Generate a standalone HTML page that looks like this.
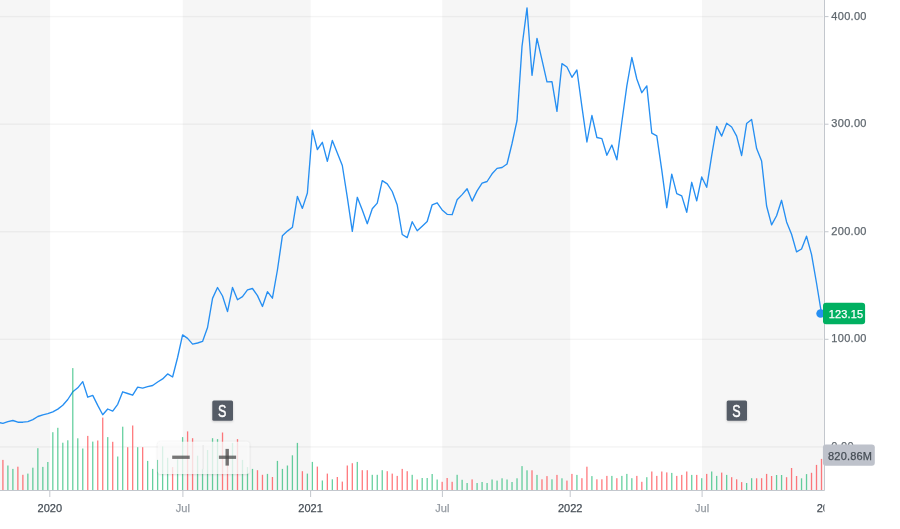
<!DOCTYPE html>
<html><head><meta charset="utf-8"><title>Chart</title>
<style>
html,body{margin:0;padding:0;background:#fff;}
svg{opacity:0.999;filter:blur(0.35px);}
body{width:900px;height:529px;overflow:hidden;position:relative;font-family:"Liberation Sans",Arial,sans-serif;}
</style></head><body>
<svg width="900" height="529" viewBox="0 0 900 529" style="position:absolute;left:0;top:0">
<defs><clipPath id="cc"><rect x="0" y="0" width="824.5" height="529"/></clipPath><filter id="sh" x="-30%" y="-30%" width="160%" height="160%"><feDropShadow dx="0" dy="1" stdDeviation="1.2" flood-color="#000" flood-opacity="0.18"/></filter><filter id="sh2" x="-20%" y="-40%" width="140%" height="180%"><feDropShadow dx="0" dy="0.5" stdDeviation="1.3" flood-color="#000" flood-opacity="0.22"/></filter></defs>
<rect x="0" y="0" width="50.10" height="490" fill="#f6f6f6"/>
<rect x="182.8" y="0" width="127.80" height="490" fill="#f6f6f6"/>
<rect x="442.3" y="0" width="127.90" height="490" fill="#f6f6f6"/>
<rect x="702.0" y="0" width="122.50" height="490" fill="#f6f6f6"/>
<rect x="0" y="15.85" width="823.0" height="1.5" fill="#000" fill-opacity="0.045"/>
<rect x="0" y="123.45" width="823.0" height="1.5" fill="#000" fill-opacity="0.045"/>
<rect x="0" y="231.00" width="823.0" height="1.5" fill="#000" fill-opacity="0.045"/>
<rect x="0" y="338.55" width="823.0" height="1.5" fill="#000" fill-opacity="0.045"/>
<rect x="0" y="446.15" width="823.0" height="1.5" fill="#000" fill-opacity="0.045"/>
<polyline points="-2.09,422.4 2.90,423.3 7.89,421.6 12.88,420.5 17.87,422.2 22.87,422.2 27.86,421.6 32.85,419.6 37.84,416.5 42.83,414.8 47.82,413.7 52.82,411.8 57.81,409.1 62.80,405.2 67.79,399.5 72.78,391.8 77.77,387.8 82.76,381.6 87.76,397.2 92.75,395.4 97.74,405.4 102.73,414.7 107.72,409.0 112.71,411.1 117.70,404.3 122.70,391.8 127.69,393.5 132.68,395.2 137.67,387.2 142.66,388.1 147.65,386.7 152.65,385.5 157.64,382.0 162.63,378.9 167.62,373.9 172.61,377.0 177.60,357.5 182.59,334.9 187.59,338.4 192.58,344.1 197.57,343.0 202.56,341.4 207.55,327.5 212.54,298.4 217.53,287.5 222.53,296.0 227.52,311.6 232.51,287.5 237.50,299.8 242.49,296.6 247.48,289.9 252.48,288.5 257.47,295.6 262.46,306.5 267.45,291.7 272.44,298.2 277.43,270.0 282.42,235.7 287.42,231.1 292.41,227.3 297.40,196.4 302.39,208.4 307.38,193.0 312.37,130.2 317.36,149.5 322.36,142.3 327.35,161.4 332.34,140.5 337.33,153.0 342.32,165.5 347.31,197.3 352.31,231.4 357.30,197.3 362.29,210.0 367.28,223.7 372.27,208.8 377.26,203.1 382.25,180.6 387.25,183.9 392.24,191.5 397.23,205.1 402.22,234.5 407.21,237.6 412.20,221.7 417.19,230.8 422.19,226.2 427.18,221.5 432.17,204.8 437.16,202.8 442.15,209.9 447.14,214.3 452.13,214.7 457.13,199.7 462.12,194.6 467.11,188.8 472.10,201.1 477.09,190.9 482.08,183.2 487.08,181.5 492.07,173.8 497.06,168.4 502.05,167.5 507.04,164.0 512.03,143.5 517.02,120.5 522.02,46.4 527.01,7.9 532.00,75.3 536.99,38.4 541.98,59.8 546.97,81.8 551.97,81.6 556.96,111.4 561.95,63.6 566.94,67.0 571.93,77.3 576.92,70.0 581.91,106.6 586.91,142.0 591.90,115.5 596.89,137.5 601.88,138.6 606.87,155.2 611.86,145.0 616.85,159.8 621.85,122.0 626.84,85.9 631.83,57.5 636.82,79.0 641.81,92.7 646.80,85.9 651.79,133.2 656.79,135.9 661.78,170.2 666.77,207.7 671.76,174.1 676.75,193.6 681.74,195.9 686.74,212.3 691.73,182.3 696.72,200.9 701.71,177.0 706.70,187.3 711.69,155.7 716.68,126.4 721.68,136.1 726.67,123.2 731.66,127.0 736.65,136.1 741.64,155.5 746.63,123.6 751.62,119.5 756.62,148.6 761.61,161.1 766.60,206.0 771.59,224.9 776.58,215.8 781.57,200.3 786.57,221.9 791.56,234.2 796.55,251.9 801.54,249.0 806.53,236.2 811.52,254.4 816.51,283.0 821.51,313.6" fill="none" stroke="rgb(38,143,242)" stroke-width="1.35" stroke-linejoin="round" stroke-linecap="round"/>
<rect x="2.25" y="459.9" width="1.3" height="30.1" fill="rgba(255,51,58,0.66)"/>
<rect x="7.24" y="465.5" width="1.3" height="24.5" fill="rgba(0,176,97,0.6)"/>
<rect x="12.23" y="468.9" width="1.3" height="21.1" fill="rgba(0,176,97,0.6)"/>
<rect x="17.22" y="466.7" width="1.3" height="23.3" fill="rgba(255,51,58,0.66)"/>
<rect x="22.22" y="474.8" width="1.3" height="15.2" fill="rgba(255,51,58,0.66)"/>
<rect x="27.21" y="473.6" width="1.3" height="16.4" fill="rgba(0,176,97,0.6)"/>
<rect x="32.20" y="467.7" width="1.3" height="22.3" fill="rgba(0,176,97,0.6)"/>
<rect x="37.19" y="448.2" width="1.3" height="41.8" fill="rgba(0,176,97,0.6)"/>
<rect x="42.18" y="466.9" width="1.3" height="23.1" fill="rgba(0,176,97,0.6)"/>
<rect x="47.17" y="462.0" width="1.3" height="28.0" fill="rgba(0,176,97,0.6)"/>
<rect x="52.17" y="432.2" width="1.3" height="57.8" fill="rgba(0,176,97,0.6)"/>
<rect x="57.16" y="427.8" width="1.3" height="62.2" fill="rgba(0,176,97,0.6)"/>
<rect x="62.15" y="442.7" width="1.3" height="47.3" fill="rgba(0,176,97,0.6)"/>
<rect x="67.14" y="440.3" width="1.3" height="49.7" fill="rgba(0,176,97,0.6)"/>
<rect x="72.13" y="368.1" width="1.3" height="121.9" fill="rgba(0,176,97,0.6)"/>
<rect x="77.12" y="438.3" width="1.3" height="51.7" fill="rgba(0,176,97,0.6)"/>
<rect x="82.11" y="448.5" width="1.3" height="41.5" fill="rgba(0,176,97,0.6)"/>
<rect x="87.11" y="435.9" width="1.3" height="54.1" fill="rgba(255,51,58,0.66)"/>
<rect x="92.10" y="441.6" width="1.3" height="48.4" fill="rgba(0,176,97,0.6)"/>
<rect x="97.09" y="440.5" width="1.3" height="49.5" fill="rgba(255,51,58,0.66)"/>
<rect x="102.08" y="417.6" width="1.3" height="72.4" fill="rgba(255,51,58,0.66)"/>
<rect x="107.07" y="437.1" width="1.3" height="52.9" fill="rgba(0,176,97,0.6)"/>
<rect x="112.06" y="441.8" width="1.3" height="48.2" fill="rgba(255,51,58,0.66)"/>
<rect x="117.05" y="456.5" width="1.3" height="33.5" fill="rgba(0,176,97,0.6)"/>
<rect x="122.05" y="426.7" width="1.3" height="63.3" fill="rgba(0,176,97,0.6)"/>
<rect x="127.04" y="447.2" width="1.3" height="42.8" fill="rgba(255,51,58,0.66)"/>
<rect x="132.03" y="425.5" width="1.3" height="64.5" fill="rgba(255,51,58,0.66)"/>
<rect x="137.02" y="447.2" width="1.3" height="42.8" fill="rgba(0,176,97,0.6)"/>
<rect x="142.01" y="447.2" width="1.3" height="42.8" fill="rgba(255,51,58,0.66)"/>
<rect x="147.00" y="460.9" width="1.3" height="29.1" fill="rgba(0,176,97,0.6)"/>
<rect x="152.00" y="468.9" width="1.3" height="21.1" fill="rgba(0,176,97,0.6)"/>
<rect x="156.99" y="459.9" width="1.3" height="30.1" fill="rgba(0,176,97,0.6)"/>
<rect x="161.98" y="446.4" width="1.3" height="43.6" fill="rgba(0,176,97,0.6)"/>
<rect x="166.97" y="457.8" width="1.3" height="32.2" fill="rgba(0,176,97,0.6)"/>
<rect x="171.96" y="467.1" width="1.3" height="22.9" fill="rgba(255,51,58,0.66)"/>
<rect x="176.95" y="459.3" width="1.3" height="30.7" fill="rgba(0,176,97,0.6)"/>
<rect x="181.94" y="437.1" width="1.3" height="52.9" fill="rgba(0,176,97,0.6)"/>
<rect x="186.94" y="431.4" width="1.3" height="58.6" fill="rgba(255,51,58,0.66)"/>
<rect x="191.93" y="438.2" width="1.3" height="51.8" fill="rgba(255,51,58,0.66)"/>
<rect x="196.92" y="455.7" width="1.3" height="34.3" fill="rgba(0,176,97,0.6)"/>
<rect x="201.91" y="468.9" width="1.3" height="21.1" fill="rgba(0,176,97,0.6)"/>
<rect x="206.90" y="450.0" width="1.3" height="40.0" fill="rgba(0,176,97,0.6)"/>
<rect x="211.89" y="438.2" width="1.3" height="51.8" fill="rgba(0,176,97,0.6)"/>
<rect x="216.88" y="439.1" width="1.3" height="50.9" fill="rgba(0,176,97,0.6)"/>
<rect x="221.88" y="432.5" width="1.3" height="57.5" fill="rgba(255,51,58,0.66)"/>
<rect x="226.87" y="452.0" width="1.3" height="38.0" fill="rgba(255,51,58,0.66)"/>
<rect x="231.86" y="442.9" width="1.3" height="47.1" fill="rgba(0,176,97,0.6)"/>
<rect x="236.85" y="439.1" width="1.3" height="50.9" fill="rgba(255,51,58,0.66)"/>
<rect x="241.84" y="459.9" width="1.3" height="30.1" fill="rgba(0,176,97,0.6)"/>
<rect x="246.83" y="467.1" width="1.3" height="22.9" fill="rgba(0,176,97,0.6)"/>
<rect x="251.83" y="468.9" width="1.3" height="21.1" fill="rgba(0,176,97,0.6)"/>
<rect x="256.82" y="470.2" width="1.3" height="19.8" fill="rgba(255,51,58,0.66)"/>
<rect x="261.81" y="474.8" width="1.3" height="15.2" fill="rgba(255,51,58,0.66)"/>
<rect x="266.80" y="473.9" width="1.3" height="16.1" fill="rgba(0,176,97,0.6)"/>
<rect x="271.79" y="477.0" width="1.3" height="13.0" fill="rgba(255,51,58,0.66)"/>
<rect x="276.78" y="460.9" width="1.3" height="29.1" fill="rgba(0,176,97,0.6)"/>
<rect x="281.77" y="468.9" width="1.3" height="21.1" fill="rgba(0,176,97,0.6)"/>
<rect x="286.77" y="465.5" width="1.3" height="24.5" fill="rgba(0,176,97,0.6)"/>
<rect x="291.76" y="455.3" width="1.3" height="34.7" fill="rgba(0,176,97,0.6)"/>
<rect x="296.75" y="442.9" width="1.3" height="47.1" fill="rgba(0,176,97,0.6)"/>
<rect x="301.74" y="471.2" width="1.3" height="18.8" fill="rgba(255,51,58,0.66)"/>
<rect x="306.73" y="473.6" width="1.3" height="16.4" fill="rgba(0,176,97,0.6)"/>
<rect x="311.72" y="461.9" width="1.3" height="28.1" fill="rgba(0,176,97,0.6)"/>
<rect x="316.71" y="466.6" width="1.3" height="23.4" fill="rgba(255,51,58,0.66)"/>
<rect x="321.71" y="480.5" width="1.3" height="9.5" fill="rgba(0,176,97,0.6)"/>
<rect x="326.70" y="473.6" width="1.3" height="16.4" fill="rgba(255,51,58,0.66)"/>
<rect x="331.69" y="479.3" width="1.3" height="10.7" fill="rgba(0,176,97,0.6)"/>
<rect x="336.68" y="477.0" width="1.3" height="13.0" fill="rgba(255,51,58,0.66)"/>
<rect x="341.67" y="481.6" width="1.3" height="8.4" fill="rgba(255,51,58,0.66)"/>
<rect x="346.66" y="465.5" width="1.3" height="24.5" fill="rgba(255,51,58,0.66)"/>
<rect x="351.66" y="463.2" width="1.3" height="26.8" fill="rgba(255,51,58,0.66)"/>
<rect x="356.65" y="461.9" width="1.3" height="28.1" fill="rgba(0,176,97,0.6)"/>
<rect x="361.64" y="470.2" width="1.3" height="19.8" fill="rgba(255,51,58,0.66)"/>
<rect x="366.63" y="470.2" width="1.3" height="19.8" fill="rgba(255,51,58,0.66)"/>
<rect x="371.62" y="474.8" width="1.3" height="15.2" fill="rgba(0,176,97,0.6)"/>
<rect x="376.61" y="474.8" width="1.3" height="15.2" fill="rgba(0,176,97,0.6)"/>
<rect x="381.60" y="470.2" width="1.3" height="19.8" fill="rgba(0,176,97,0.6)"/>
<rect x="386.60" y="471.2" width="1.3" height="18.8" fill="rgba(255,51,58,0.66)"/>
<rect x="391.59" y="473.6" width="1.3" height="16.4" fill="rgba(255,51,58,0.66)"/>
<rect x="396.58" y="475.9" width="1.3" height="14.1" fill="rgba(255,51,58,0.66)"/>
<rect x="401.57" y="468.9" width="1.3" height="21.1" fill="rgba(255,51,58,0.66)"/>
<rect x="406.56" y="471.2" width="1.3" height="18.8" fill="rgba(255,51,58,0.66)"/>
<rect x="411.55" y="474.8" width="1.3" height="15.2" fill="rgba(0,176,97,0.6)"/>
<rect x="416.54" y="479.5" width="1.3" height="10.5" fill="rgba(255,51,58,0.66)"/>
<rect x="421.54" y="478.0" width="1.3" height="12.0" fill="rgba(0,176,97,0.6)"/>
<rect x="426.53" y="478.0" width="1.3" height="12.0" fill="rgba(0,176,97,0.6)"/>
<rect x="431.52" y="474.0" width="1.3" height="16.0" fill="rgba(0,176,97,0.6)"/>
<rect x="436.51" y="479.5" width="1.3" height="10.5" fill="rgba(0,176,97,0.6)"/>
<rect x="441.50" y="481.8" width="1.3" height="8.2" fill="rgba(255,51,58,0.66)"/>
<rect x="446.49" y="478.0" width="1.3" height="12.0" fill="rgba(255,51,58,0.66)"/>
<rect x="451.49" y="481.8" width="1.3" height="8.2" fill="rgba(255,51,58,0.66)"/>
<rect x="456.48" y="474.8" width="1.3" height="15.2" fill="rgba(0,176,97,0.6)"/>
<rect x="461.47" y="479.8" width="1.3" height="10.2" fill="rgba(0,176,97,0.6)"/>
<rect x="466.46" y="483.0" width="1.3" height="7.0" fill="rgba(0,176,97,0.6)"/>
<rect x="471.45" y="479.4" width="1.3" height="10.6" fill="rgba(255,51,58,0.66)"/>
<rect x="476.44" y="483.0" width="1.3" height="7.0" fill="rgba(0,176,97,0.6)"/>
<rect x="481.43" y="482.0" width="1.3" height="8.0" fill="rgba(0,176,97,0.6)"/>
<rect x="486.43" y="483.0" width="1.3" height="7.0" fill="rgba(0,176,97,0.6)"/>
<rect x="491.42" y="479.5" width="1.3" height="10.5" fill="rgba(0,176,97,0.6)"/>
<rect x="496.41" y="480.6" width="1.3" height="9.4" fill="rgba(0,176,97,0.6)"/>
<rect x="501.40" y="478.3" width="1.3" height="11.7" fill="rgba(0,176,97,0.6)"/>
<rect x="506.39" y="479.5" width="1.3" height="10.5" fill="rgba(0,176,97,0.6)"/>
<rect x="511.38" y="482.0" width="1.3" height="8.0" fill="rgba(0,176,97,0.6)"/>
<rect x="516.37" y="478.3" width="1.3" height="11.7" fill="rgba(0,176,97,0.6)"/>
<rect x="521.37" y="466.1" width="1.3" height="23.9" fill="rgba(0,176,97,0.6)"/>
<rect x="526.36" y="470.3" width="1.3" height="19.7" fill="rgba(0,176,97,0.6)"/>
<rect x="531.35" y="470.3" width="1.3" height="19.7" fill="rgba(255,51,58,0.66)"/>
<rect x="536.34" y="474.9" width="1.3" height="15.1" fill="rgba(0,176,97,0.6)"/>
<rect x="541.33" y="479.3" width="1.3" height="10.7" fill="rgba(255,51,58,0.66)"/>
<rect x="546.32" y="476.1" width="1.3" height="13.9" fill="rgba(255,51,58,0.66)"/>
<rect x="551.32" y="479.3" width="1.3" height="10.7" fill="rgba(0,176,97,0.6)"/>
<rect x="556.31" y="474.9" width="1.3" height="15.1" fill="rgba(255,51,58,0.66)"/>
<rect x="561.30" y="478.3" width="1.3" height="11.7" fill="rgba(0,176,97,0.6)"/>
<rect x="566.29" y="480.6" width="1.3" height="9.4" fill="rgba(255,51,58,0.66)"/>
<rect x="571.28" y="473.9" width="1.3" height="16.1" fill="rgba(255,51,58,0.66)"/>
<rect x="576.27" y="474.9" width="1.3" height="15.1" fill="rgba(0,176,97,0.6)"/>
<rect x="581.26" y="478.2" width="1.3" height="11.8" fill="rgba(255,51,58,0.66)"/>
<rect x="586.26" y="466.7" width="1.3" height="23.3" fill="rgba(255,51,58,0.66)"/>
<rect x="591.25" y="476.1" width="1.3" height="13.9" fill="rgba(0,176,97,0.6)"/>
<rect x="596.24" y="479.3" width="1.3" height="10.7" fill="rgba(255,51,58,0.66)"/>
<rect x="601.23" y="479.3" width="1.3" height="10.7" fill="rgba(255,51,58,0.66)"/>
<rect x="606.22" y="475.9" width="1.3" height="14.1" fill="rgba(255,51,58,0.66)"/>
<rect x="611.21" y="475.9" width="1.3" height="14.1" fill="rgba(0,176,97,0.6)"/>
<rect x="616.20" y="478.2" width="1.3" height="11.8" fill="rgba(255,51,58,0.66)"/>
<rect x="621.20" y="475.9" width="1.3" height="14.1" fill="rgba(0,176,97,0.6)"/>
<rect x="626.19" y="473.9" width="1.3" height="16.1" fill="rgba(0,176,97,0.6)"/>
<rect x="631.18" y="478.2" width="1.3" height="11.8" fill="rgba(0,176,97,0.6)"/>
<rect x="636.17" y="475.9" width="1.3" height="14.1" fill="rgba(255,51,58,0.66)"/>
<rect x="641.16" y="481.8" width="1.3" height="8.2" fill="rgba(255,51,58,0.66)"/>
<rect x="646.15" y="477.2" width="1.3" height="12.8" fill="rgba(0,176,97,0.6)"/>
<rect x="651.14" y="471.5" width="1.3" height="18.5" fill="rgba(255,51,58,0.66)"/>
<rect x="656.14" y="475.9" width="1.3" height="14.1" fill="rgba(255,51,58,0.66)"/>
<rect x="661.13" y="471.5" width="1.3" height="18.5" fill="rgba(255,51,58,0.66)"/>
<rect x="666.12" y="472.4" width="1.3" height="17.6" fill="rgba(255,51,58,0.66)"/>
<rect x="671.11" y="472.9" width="1.3" height="17.1" fill="rgba(0,176,97,0.6)"/>
<rect x="676.10" y="475.9" width="1.3" height="14.1" fill="rgba(255,51,58,0.66)"/>
<rect x="681.09" y="474.9" width="1.3" height="15.1" fill="rgba(255,51,58,0.66)"/>
<rect x="686.09" y="471.5" width="1.3" height="18.5" fill="rgba(255,51,58,0.66)"/>
<rect x="691.08" y="474.9" width="1.3" height="15.1" fill="rgba(0,176,97,0.6)"/>
<rect x="696.07" y="474.9" width="1.3" height="15.1" fill="rgba(255,51,58,0.66)"/>
<rect x="701.06" y="478.2" width="1.3" height="11.8" fill="rgba(0,176,97,0.6)"/>
<rect x="706.05" y="473.9" width="1.3" height="16.1" fill="rgba(255,51,58,0.66)"/>
<rect x="711.04" y="471.5" width="1.3" height="18.5" fill="rgba(0,176,97,0.6)"/>
<rect x="716.03" y="475.9" width="1.3" height="14.1" fill="rgba(0,176,97,0.6)"/>
<rect x="721.03" y="472.6" width="1.3" height="17.4" fill="rgba(255,51,58,0.66)"/>
<rect x="726.02" y="474.9" width="1.3" height="15.1" fill="rgba(0,176,97,0.6)"/>
<rect x="731.01" y="477.2" width="1.3" height="12.8" fill="rgba(255,51,58,0.66)"/>
<rect x="736.00" y="479.3" width="1.3" height="10.7" fill="rgba(255,51,58,0.66)"/>
<rect x="740.99" y="482.1" width="1.3" height="7.9" fill="rgba(255,51,58,0.66)"/>
<rect x="745.98" y="483.0" width="1.3" height="7.0" fill="rgba(0,176,97,0.6)"/>
<rect x="750.98" y="478.2" width="1.3" height="11.8" fill="rgba(0,176,97,0.6)"/>
<rect x="755.97" y="478.3" width="1.3" height="11.7" fill="rgba(255,51,58,0.66)"/>
<rect x="760.96" y="478.2" width="1.3" height="11.8" fill="rgba(255,51,58,0.66)"/>
<rect x="765.95" y="473.9" width="1.3" height="16.1" fill="rgba(255,51,58,0.66)"/>
<rect x="770.94" y="476.0" width="1.3" height="14.0" fill="rgba(255,51,58,0.66)"/>
<rect x="775.93" y="475.0" width="1.3" height="15.0" fill="rgba(0,176,97,0.6)"/>
<rect x="780.92" y="475.0" width="1.3" height="15.0" fill="rgba(0,176,97,0.6)"/>
<rect x="785.92" y="477.2" width="1.3" height="12.8" fill="rgba(255,51,58,0.66)"/>
<rect x="790.91" y="468.0" width="1.3" height="22.0" fill="rgba(255,51,58,0.66)"/>
<rect x="795.90" y="476.0" width="1.3" height="14.0" fill="rgba(255,51,58,0.66)"/>
<rect x="800.89" y="478.3" width="1.3" height="11.7" fill="rgba(0,176,97,0.6)"/>
<rect x="805.88" y="474.1" width="1.3" height="15.9" fill="rgba(0,176,97,0.6)"/>
<rect x="810.87" y="472.8" width="1.3" height="17.2" fill="rgba(255,51,58,0.66)"/>
<rect x="815.86" y="464.9" width="1.3" height="25.1" fill="rgba(255,51,58,0.66)"/>
<rect x="820.86" y="458.9" width="1.3" height="31.1" fill="rgba(255,51,58,0.66)"/>
<rect x="824.0" y="0" width="1" height="490.5" fill="#c3c7cd"/>
<rect x="0" y="490" width="824.5" height="1" fill="#c3c7cd"/>
<rect x="824.5" y="16.10" width="4" height="1" fill="#c3c7cd"/>
<rect x="824.5" y="123.70" width="4" height="1" fill="#c3c7cd"/>
<rect x="824.5" y="231.25" width="4" height="1" fill="#c3c7cd"/>
<rect x="824.5" y="338.80" width="4" height="1" fill="#c3c7cd"/>
<rect x="824.5" y="446.40" width="4" height="1" fill="#c3c7cd"/>
<rect x="49.30" y="491" width="1" height="6" fill="#c3c7cd"/>
<rect x="182.40" y="491" width="1" height="6" fill="#c3c7cd"/>
<rect x="310.10" y="491" width="1" height="6" fill="#c3c7cd"/>
<rect x="441.90" y="491" width="1" height="6" fill="#c3c7cd"/>
<rect x="569.70" y="491" width="1" height="6" fill="#c3c7cd"/>
<rect x="701.60" y="491" width="1" height="6" fill="#c3c7cd"/>
<g clip-path="url(#cc)" font-family="Liberation Sans, Arial, sans-serif" font-size="11" text-anchor="middle">
<text x="49.8" y="511.8" fill="#464e56" stroke="#464e56" stroke-width="0.25">2020</text>
<text x="182.9" y="511.8" fill="#959ba2" stroke="#959ba2" stroke-width="0.25">Jul</text>
<text x="310.6" y="511.8" fill="#464e56" stroke="#464e56" stroke-width="0.25">2021</text>
<text x="442.4" y="511.8" fill="#959ba2" stroke="#959ba2" stroke-width="0.25">Jul</text>
<text x="570.2" y="511.8" fill="#464e56" stroke="#464e56" stroke-width="0.25">2022</text>
<text x="702.1" y="511.8" fill="#959ba2" stroke="#959ba2" stroke-width="0.25">Jul</text>
<text x="829.0" y="511.8" fill="#464e56" stroke="#464e56" stroke-width="0.25">2023</text>
</g>
<g font-family="Liberation Sans, Arial, sans-serif" font-size="11" letter-spacing="0.3" fill="#5f676e" stroke="#5f676e" stroke-width="0.25">
<text x="831.3" y="19.6">400.00</text>
<text x="831.3" y="127.2">300.00</text>
<text x="831.3" y="234.7">200.00</text>
<text x="831.3" y="342.2">100.00</text>
<text x="831.3" y="449.6">0.00</text>
</g>
<circle cx="820.6" cy="313.5" r="4.3" fill="rgb(38,143,242)"/>
<rect x="823" y="302.8" width="42.1" height="21.5" rx="3" fill="#00b061"/>
<text x="828.7" y="317.9" font-family="Liberation Sans, Arial, sans-serif" font-size="11" letter-spacing="0.15" fill="#fff" stroke="#fff" stroke-width="0.25">123.15</text>
<rect x="822.9" y="444.5" width="51.9" height="21.2" rx="3" fill="#bec2cb"/>
<text x="828" y="459.8" font-family="Liberation Sans, Arial, sans-serif" font-size="11" letter-spacing="0.2" fill="#464e56" stroke="#464e56" stroke-width="0.25">820.86M</text>
<rect x="212.3" y="400.5" width="20.7" height="20.2" rx="1.5" fill="#555c66" filter="url(#sh)"/>
<text x="0" y="0" transform="translate(222.2,417.3) scale(0.78,1)" text-anchor="middle" font-family="Liberation Sans, Arial, sans-serif" font-size="16.1" fill="#fff" stroke="#fff" stroke-width="0.45">S</text>
<rect x="726.7" y="400.5" width="20.3" height="20.2" rx="1.5" fill="#555c66" filter="url(#sh)"/>
<text x="0" y="0" transform="translate(736.5,417.3) scale(0.78,1)" text-anchor="middle" font-family="Liberation Sans, Arial, sans-serif" font-size="16.1" fill="#fff" stroke="#fff" stroke-width="0.45">S</text>
<g>
<rect x="157.8" y="441.7" width="91.6" height="32.2" rx="3" fill="#ffffff" fill-opacity="0.74" filter="url(#sh2)"/>
<rect x="202.6" y="445" width="1" height="24.4" fill="#e4e4e4"/>
<rect x="172.2" y="455.6" width="17.5" height="3.3" fill="#4a4a4a" fill-opacity="0.75"/>
<rect x="218.9" y="455.6" width="17.2" height="3.3" fill="#4a4a4a" fill-opacity="0.75"/>
<rect x="225.5" y="448.9" width="3.4" height="16.7" fill="#4a4a4a" fill-opacity="0.75"/>
</g>
</svg>
</body></html>
